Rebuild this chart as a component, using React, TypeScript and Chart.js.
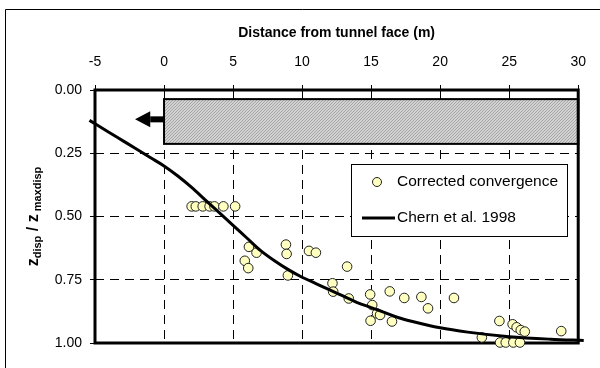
import React, { useEffect, useRef } from 'react';
import { Chart, registerables } from 'chart.js';

Chart.register(...registerables);

// ---- data ----
const xTickValues = [-5, 0, 5, 10, 15, 20, 25, 30];
const yTickValues = [0, 0.25, 0.5, 0.75, 1];

const convX = [2.0, 2.3, 2.8, 3.3, 3.65, 4.3, 5.15,
  6.15, 6.7, 5.85, 6.1, 8.83, 8.88, 8.97, 10.5, 11.0, 13.26, 12.2, 12.25, 13.38,
  14.93, 15.08, 15.43, 15.65, 14.96, 16.51, 16.35, 17.4, 18.64, 19.12, 21.0,
  24.29, 25.25, 25.54, 25.84, 26.13, 23.02, 24.34, 24.75, 25.3, 25.78, 28.77];
const convY = [0.46, 0.46, 0.46, 0.46, 0.46, 0.46, 0.46,
  0.62, 0.643, 0.675, 0.704, 0.611, 0.648, 0.733, 0.636, 0.643, 0.698, 0.764, 0.797, 0.824,
  0.808, 0.85, 0.883, 0.889, 0.912, 0.915, 0.796, 0.822, 0.818, 0.863, 0.822,
  0.913, 0.926, 0.938, 0.949, 0.955, 0.978, 0.998, 0.998, 0.998, 0.998, 0.953];

const chernX = [-5.4, -4, -3, -2, -1, 0, 1, 2, 3, 4, 5, 6, 7, 8, 9, 10, 11, 12, 13, 14, 15, 16, 17, 18, 20, 22, 25, 28, 30.4];
const chernY = [0.12, 0.167, 0.2, 0.233, 0.267, 0.3, 0.34, 0.385, 0.435, 0.485, 0.535, 0.585, 0.635, 0.675, 0.71, 0.74, 0.765, 0.79, 0.815, 0.84, 0.86, 0.88, 0.9, 0.915, 0.94, 0.957, 0.975, 0.985, 0.99];

const tunnelX = [0, 30];
const tunnelY = [0.036, 0.213];
const arrowX = [0, -1.0, -2.1]; // tail, head base, tip
const arrowY = 0.116;

const seriesNames = ['Corrected convergence', 'Chern et al. 1998'];
const xTitle = 'Distance from tunnel face (m)';

const FONT = '"Liberation Sans", Arial, sans-serif';

function makePattern(): CanvasPattern | string {
  const c = document.createElement('canvas');
  c.width = 3; c.height = 3;
  const g = c.getContext('2d');
  if (!g) return '#c3c3c3';
  g.fillStyle = '#d2d2d2';
  g.fillRect(0, 0, 3, 3);
  g.fillStyle = '#a6a6a6';
  for (let i = 0; i < 3; i++) g.fillRect(i, 2 - i, 1, 1);
  const p = g.createPattern(c, 'repeat');
  return p || '#c3c3c3';
}

export default function App() {
  const ref = useRef<HTMLCanvasElement>(null);

  useEffect(() => {
    if (!ref.current) return;
    const pattern = makePattern();

    const decor = {
      id: 'decor',
      beforeDraw(chart: any) {
        const { ctx } = chart;
        ctx.save();
        ctx.fillStyle = '#fff';
        ctx.fillRect(0, 0, chart.width, chart.height);
        ctx.strokeStyle = '#000';
        ctx.lineWidth = 1;
        ctx.beginPath();
        ctx.moveTo(5.5, chart.height);
        ctx.lineTo(5.5, 9.5);
        ctx.lineTo(chart.width, 9.5);
        ctx.stroke();
        ctx.restore();
      },
      beforeDatasetsDraw(chart: any) {
        const { ctx, chartArea: a } = chart;
        const xs = chart.scales.x, ys = chart.scales.y;
        ctx.save();
        // tunnel
        const x0 = xs.getPixelForValue(tunnelX[0]);
        const x1 = xs.getPixelForValue(tunnelX[1]);
        const y0 = ys.getPixelForValue(tunnelY[0]);
        const y1 = ys.getPixelForValue(tunnelY[1]);
        ctx.fillStyle = pattern;
        ctx.fillRect(x0, y0, x1 - x0, y1 - y0);
        ctx.strokeStyle = '#000';
        ctx.lineWidth = 2;
        ctx.strokeRect(x0, y0, x1 - x0, y1 - y0);
        // arrow
        const ax0 = xs.getPixelForValue(arrowX[0]);
        const ax1 = xs.getPixelForValue(arrowX[1]);
        const ax2 = xs.getPixelForValue(arrowX[2]);
        const ay = ys.getPixelForValue(arrowY);
        ctx.fillStyle = '#000';
        ctx.fillRect(ax1, ay - 3, ax0 - ax1, 6);
        ctx.beginPath();
        ctx.moveTo(ax2, ay);
        ctx.lineTo(ax1, ay - 8);
        ctx.lineTo(ax1, ay + 8);
        ctx.closePath();
        ctx.fill();
        // plot frame
        ctx.lineWidth = 3;
        ctx.strokeStyle = '#000';
        ctx.strokeRect(a.left, a.top, a.right - a.left, a.bottom - a.top);
        ctx.restore();
      },
      afterDraw(chart: any) {
        const { ctx, chartArea: a } = chart;
        ctx.save();
        // legend
        const lx = 351.5, ly = 164.5, lw = 216, lh = 72;
        ctx.fillStyle = '#fff';
        ctx.fillRect(lx, ly, lw, lh);
        ctx.strokeStyle = '#000';
        ctx.lineWidth = 1;
        ctx.strokeRect(lx, ly, lw, lh);
        ctx.beginPath();
        ctx.arc(377, 182, 4.5, 0, Math.PI * 2);
        ctx.fillStyle = '#FFFFC0';
        ctx.fill();
        ctx.strokeStyle = '#222';
        ctx.stroke();
        ctx.beginPath();
        ctx.moveTo(362, 218);
        ctx.lineTo(395, 218);
        ctx.lineWidth = 3;
        ctx.strokeStyle = '#000';
        ctx.stroke();
        ctx.fillStyle = '#000';
        ctx.font = `15.5px ${FONT}`;
        ctx.textBaseline = 'middle';
        ctx.textAlign = 'left';
        ctx.fillText(seriesNames[0], 397, 182);
        ctx.fillText(seriesNames[1], 397, 218);

        // y axis title with subscripts
        const parts = [
          { t: 'z', f: `bold 16px ${FONT}`, dy: 0 },
          { t: 'disp', f: `bold 11px ${FONT}`, dy: 3 },
          { t: ' / ', f: `bold 16px ${FONT}`, dy: 0 },
          { t: 'z', f: `bold 16px ${FONT}`, dy: 0 },
          { t: ' maxdisp', f: `bold 11px ${FONT}`, dy: 3 },
        ];
        let total = 0;
        const widths = parts.map(p => { ctx.font = p.f; const w = ctx.measureText(p.t).width; total += w; return w; });
        ctx.translate(34, (a.top + a.bottom) / 2);
        ctx.rotate(-Math.PI / 2);
        ctx.textBaseline = 'alphabetic';
        let cx = -total / 2;
        parts.forEach((p, i) => {
          ctx.font = p.f;
          ctx.fillText(p.t, cx, 4 + p.dy);
          cx += widths[i];
        });
        ctx.restore();
      },
    };

    const chart = new Chart(ref.current, {
      type: 'scatter',
      data: {
        datasets: [
          {
            type: 'line',
            label: seriesNames[1],
            data: chernX.map((x, i) => ({ x, y: chernY[i] })),
            borderColor: '#000',
            borderWidth: 3,
            pointRadius: 0,
            fill: false,
            cubicInterpolationMode: 'monotone',
            clip: false,
          } as any,
          {
            label: seriesNames[0],
            data: convX.map((x, i) => ({ x, y: convY[i] })),
            backgroundColor: '#FFFFC0',
            borderColor: '#222',
            borderWidth: 1,
            pointRadius: 4.8,
            clip: false,
          } as any,
        ],
      },
      options: {
        animation: false,
        responsive: false,
        devicePixelRatio: 1,
        layout: { padding: { left: 0, top: 10, right: 17, bottom: 25 } },
        plugins: {
          legend: { display: false },
          tooltip: { enabled: false },
          title: { display: false },
        },
        scales: {
          x: {
            type: 'linear',
            position: 'top',
            min: xTickValues[0],
            max: xTickValues[xTickValues.length - 1],
            afterBuildTicks: (s: any) => { s.ticks = xTickValues.map(v => ({ value: v })); },
            afterFit: (s: any) => { s.height = 80; },
            ticks: {
              color: '#000',
              font: { family: FONT, size: 14 },
              padding: 14,
              maxRotation: 0,
            },
            grid: {
              color: (c: any) => (c.tick && (c.tick.value === -5 || c.tick.value === 30) ? 'rgba(0,0,0,0)' : '#000'),
              lineWidth: 1,
              tickColor: '#000',
              tickLength: 5,
              drawTicks: true,
            },
            border: { display: false, dash: [9, 6] },
            title: {
              display: true,
              text: xTitle,
              color: '#000',
              font: { family: FONT, size: 14, weight: 'bold' },
              padding: { top: 15, bottom: 0 },
            },
          },
          y: {
            type: 'linear',
            reverse: true,
            min: 0,
            max: 1,
            afterBuildTicks: (s: any) => { s.ticks = yTickValues.map(v => ({ value: v })); },
            afterFit: (s: any) => { s.width = 95; },
            ticks: {
              color: '#000',
              font: { family: FONT, size: 14 },
              padding: 8,
              callback: (v: any) => Number(v).toFixed(2),
            },
            grid: {
              color: (c: any) => (c.tick && (c.tick.value === 0 || c.tick.value === 1) ? 'rgba(0,0,0,0)' : '#000'),
              lineWidth: 1,
              tickColor: '#000',
              tickLength: 5,
              drawTicks: true,
            },
            border: { display: false, dash: [9, 6] },
          },
        },
      },
      plugins: [decor],
    } as any);

    return () => chart.destroy();
  }, []);

  return (
    <div style={{ position: 'fixed', left: 0, top: 0, width: 600, height: 368, background: '#fff' }}>
      <canvas ref={ref} width={600} height={368} style={{ display: 'block', width: 600, height: 368 }} />
    </div>
  );
}
